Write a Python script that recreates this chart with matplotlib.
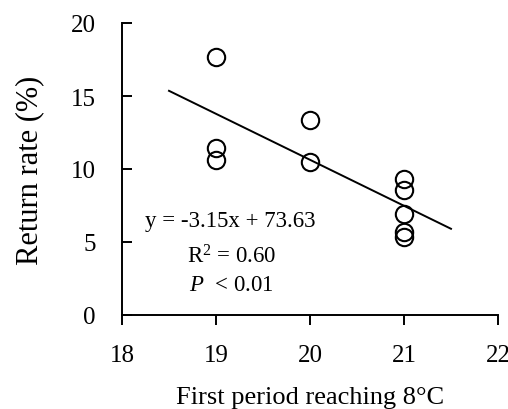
import matplotlib
matplotlib.use("Agg")
import matplotlib.pyplot as plt
import numpy as np

plt.rcParams['font.family'] = ['Liberation Serif', 'DejaVu Serif']
plt.rcParams['mathtext.fontset'] = 'custom'
plt.rcParams['mathtext.rm'] = 'Liberation Serif'
plt.rcParams['mathtext.it'] = 'Liberation Serif:italic'

x_vals = [19, 19, 19, 20, 20, 21, 21, 21, 21, 21]
y_vals = [17.67, 11.44, 10.64, 13.33, 10.46, 9.34, 8.58, 6.92, 5.66, 5.36]
slope = -3.15
intercept = 73.63
fit_x = [18.5, 21.5]
x_ticks = [18, 19, 20, 21, 22]
y_ticks = [0, 5, 10, 15, 20]

fig = plt.figure(figsize=(5.08, 4.10), dpi=100)
ax = fig.add_axes([122/508, 1-316/410, (498-122)/508, (316-24)/410])

fx = np.array(fit_x)
ax.plot(fx, slope*fx + intercept, color='black', lw=1.4, zorder=2)
ax.plot(x_vals, y_vals, 'o', ms=12.5, mfc='none', mec='black', mew=1.5, zorder=3)

ax.set_xlim(18, 22)
ax.set_ylim(0, 20)
ax.set_xticks(x_ticks)
ax.set_yticks(y_ticks)
ax.spines['top'].set_visible(False)
ax.spines['right'].set_visible(False)
for s in ['left', 'bottom']:
    ax.spines[s].set_linewidth(1.4)
ax.tick_params(axis='x', direction='out', length=7, width=1.4, labelsize=18, pad=14)
ax.tick_params(axis='y', direction='in', length=7, width=1.4, labelsize=18, pad=19)

ax.set_ylabel('Return rate (%)', fontsize=22, labelpad=19)
ax.set_xlabel('First period reaching 8°C', fontsize=19, labelpad=14)

ax.text(145/508, 1-222/410, 'y = -3.15x + 73.63', transform=fig.transFigure, fontsize=16.5, va='center', ha='left')
ax.text(187/508, 1-257/410, 'R$^2$ = 0.60', transform=fig.transFigure, fontsize=16.5, va='center', ha='left')
ax.text(189/508, 1-286/410, '$\\it{P}$  < 0.01', transform=fig.transFigure, fontsize=16.5, va='center', ha='left')

fig.savefig('out.png', dpi=100)
